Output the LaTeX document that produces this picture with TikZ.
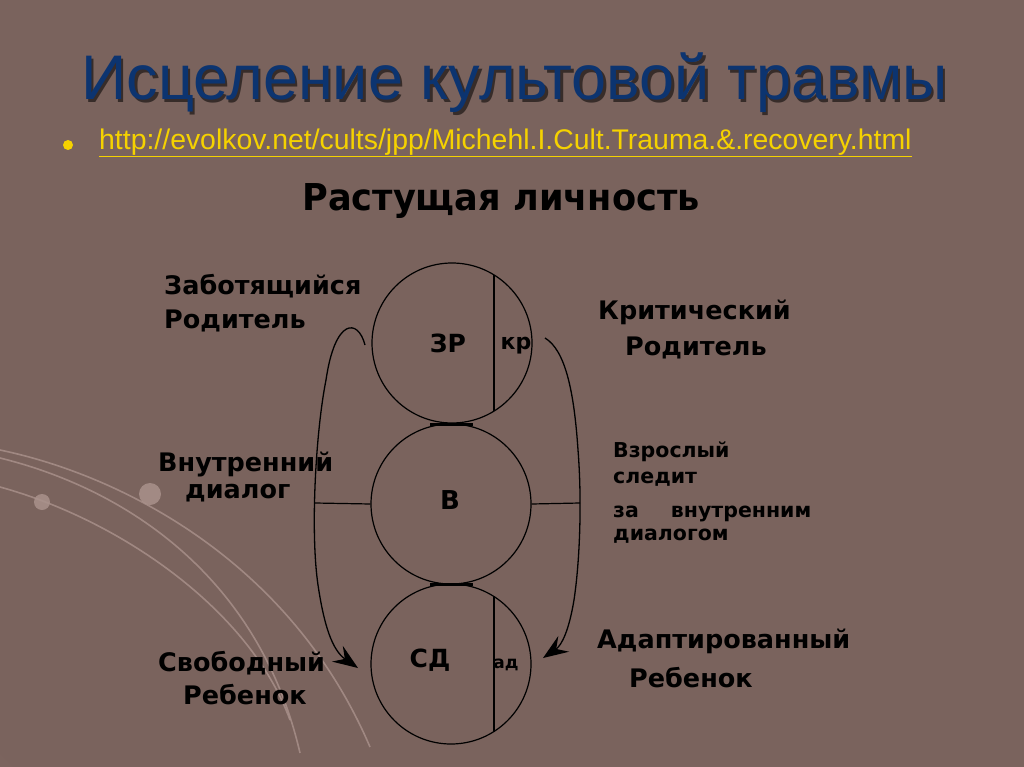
\documentclass[tikz,border=0pt]{standalone}
\usepackage{fontspec}
\setmainfont{Liberation Sans}
\newfontfamily\dvb{DejaVu Sans Bold}
\usetikzlibrary{arrows.meta}
\definecolor{bgbase}{RGB}{122,99,93}
\definecolor{bglight}{RGB}{158,134,128}
\definecolor{titleblue}{RGB}{12,52,112}
\definecolor{urlyellow}{RGB}{245,210,0}
\definecolor{deco}{RGB}{170,146,140}
\tikzset{
  lbl/.style={font=\dvb\fontsize{25.5}{25.5}\selectfont, text=black, inner sep=0pt, anchor=base west},
  small/.style={font=\dvb\fontsize{20.5}{20.5}\selectfont, text=black, inner sep=0pt, anchor=base west},
  circ/.style={circle, draw=black, line width=1.2pt, minimum size=160pt, inner sep=0pt},
  ln/.style={draw=black, line width=1.2pt},
  thickbar/.style={draw=black, line width=3pt},
  curvearr/.style={draw=black, line width=1.3pt, -{Stealth[length=25pt,width=19pt,inset=9pt]}},
  decoline/.style={draw=deco, line width=1.6pt, opacity=0.8},
  decodot/.style={fill=deco, opacity=0.85}
}
\begin{document}
\begin{tikzpicture}[x=1pt,y=-1pt]
\useasboundingbox (0,0) rectangle (1024,767);
% background
\fill[bgbase] (0,0) rectangle (1024,767);
\shade[inner color=bglight, outer color=bgbase, opacity=0.9] (-400,1167) circle (600pt);
% decorative curves
\draw[decoline] (0,450) .. controls (120,475) and (290,560) .. (370,747);
\draw[decoline] (0,458) .. controls (130,490) and (260,580) .. (300,753);
\draw[decoline] (0,487) .. controls (120,520) and (250,610) .. (290,720);
\fill[decodot] (150,494) circle (11pt);
\fill[decodot] (42,502) circle (8pt);
% title
\node[font=\fontsize{63}{63}\selectfont, text=black, opacity=0.55] at (517,85.5) {Исцеление культовой травмы};
\node[font=\fontsize{63}{63}\selectfont, text=titleblue] (title) at (514.5,83) {Исцеление культовой травмы};
% bullet + url
\fill[urlyellow] (68,145) circle (5pt);
\node[anchor=west, inner sep=0pt, text=urlyellow] (url) at (99,143) {\fontsize{28.4}{28.4}\selectfont\underline{http://evolkov.net/cults/jpp/Michehl.I.Cult.Trauma.\&.recovery.html}};
% heading
\node[inner sep=0pt, text=black] (head) at (501,201) {\scalebox{0.95}[1]{\dvb\fontsize{37}{37}\selectfont Растущая личность}};
% circles
\node[circ] (zr) at (452,343) {};
\node[circ] (b) at (451,504) {};
\node[circ] (sd) at (451,664) {};
% chords
\draw[ln] (494,275) -- (494,411);
\draw[ln] (494,596) -- (494,732);
% thick connectors
\draw[thickbar] (430,424) -- (473,424);
\draw[thickbar] (430,584) -- (473,584);
% circle labels
\node[font=\dvb\fontsize{25}{25}\selectfont] at (448,343) {ЗР};
\node[font=\dvb\fontsize{22}{22}\selectfont] at (516,346) {кр};
\node[font=\dvb\fontsize{26}{26}\selectfont] at (450,500) {В};
\node[font=\dvb\fontsize{25}{25}\selectfont] at (430,660) {СД};
\node[font=\dvb\fontsize{17}{17}\selectfont] at (506,665) {ад};
% horizontal lines to curves
\coordinate (hl) at (315,503);
\coordinate (hr) at (580,503);
\draw[ln] (hl) -- (b.west);
\draw[ln] (b.east) -- (hr);
% curves with arrows
\coordinate (ls) at (365,345);
\coordinate (le) at (358,668);
\coordinate (rs) at (545,338);
\coordinate (re) at (543,658);
\draw[curvearr] (ls) .. controls (358,318) and (335,318) .. (326,380)
   .. controls (316,430) and (310,530) .. (318,585)
   .. controls (324,625) and (332,650) .. (le);
\draw[curvearr] (rs) .. controls (565,350) and (574,390) .. (578,450)
   .. controls (582,500) and (580,560) .. (574,600)
   .. controls (569,630) and (562,645) .. (re);
% labels
\node[lbl] at (164,294) {Заботящийся};
\node[lbl] at (164,328) {Родитель};
\node[lbl] at (598,319) {Критический};
\node[lbl] at (625,355) {Родитель};
\node[lbl] at (158,471) {Внутренний};
\node[lbl] at (185,498) {диалог};
\node[small] at (613,457) {Взрослый};
\node[small] at (613,483) {следит};
\node[small] at (613,517) {за\hspace{32pt}внутренним};
\node[small] at (613,540) {диалогом};
\node[lbl] at (158,671) {Свободный};
\node[lbl] at (183,704) {Ребенок};
\node[lbl] at (597,648) {Адаптированный};
\node[lbl] at (629,687) {Ребенок};
\end{tikzpicture}
\end{document}
